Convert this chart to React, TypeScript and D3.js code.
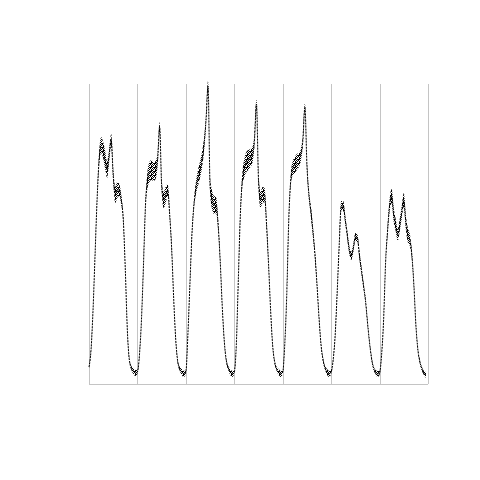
import * as d3 from "d3";

// hourly load, one array per day (hours 0..23)
const day1 = [17, 34, 74, 129, 184, 224, 239, 234, 224, 214, 229, 244, 209, 189, 194, 194, 184, 164, 114, 54, 24, 16, 13, 11];
const day2 = [12, 29, 64, 119, 179, 204, 212, 214, 212, 214, 224, 257, 199, 184, 189, 194, 169, 134, 84, 44, 22, 15, 12, 10];
const day3 = [12, 49, 99, 149, 179, 196, 206, 214, 224, 239, 264, 298, 199, 184, 179, 179, 159, 124, 79, 44, 24, 16, 12, 10];
const day4 = [12, 39, 104, 169, 204, 216, 222, 224, 226, 229, 244, 280, 204, 184, 189, 189, 159, 119, 74, 39, 22, 15, 12, 10];
const day5 = [12, 39, 89, 164, 204, 216, 219, 222, 224, 229, 244, 277, 219, 189, 172, 152, 129, 99, 66, 39, 24, 16, 12, 10];
const day6 = [12, 24, 49, 92, 139, 178, 178, 164, 149, 134, 128, 136, 147, 146, 129, 114, 99, 84, 62, 42, 26, 16, 12, 10];
const day7 = [11, 29, 64, 122, 154, 179, 188, 169, 159, 149, 159, 172, 184, 162, 149, 144, 129, 99, 59, 34, 22, 15, 11, 9];

// half-width of the noisy band around each hourly value
const spread1 = [2, 2, 2, 2, 3, 6, 8, 8, 9, 8, 6, 6, 6, 8, 8, 6, 5, 3, 2, 2, 2, 2, 3, 3];
const spread2 = [2, 2, 2, 3, 4, 8, 10, 10, 9, 9, 6, 5, 6, 8, 8, 6, 4, 3, 2, 2, 2, 2, 3, 3];
const spread3 = [2, 2, 3, 3, 4, 6, 8, 8, 8, 6, 5, 5, 8, 9, 9, 8, 5, 3, 2, 2, 2, 2, 3, 3];
const spread4 = [2, 2, 3, 4, 6, 9, 10, 10, 9, 8, 6, 5, 7, 8, 8, 7, 5, 3, 2, 2, 2, 2, 3, 3];
const spread5 = [2, 2, 3, 4, 5, 7, 8, 8, 7, 6, 5, 4, 4, 4, 5, 5, 4, 3, 2, 2, 2, 2, 3, 3];
const spread6 = [2, 2, 2, 3, 3, 5, 5, 4, 4, 4, 4, 4, 4, 4, 4, 4, 3, 3, 2, 2, 2, 2, 2, 3];
const spread7 = [2, 2, 2, 3, 4, 6, 7, 7, 6, 6, 6, 6, 7, 7, 7, 6, 4, 3, 2, 2, 2, 2, 2, 3];

const days = [day1, day2, day3, day4, day5, day6, day7];
const spreads = [spread1, spread2, spread3, spread4, spread5, spread6, spread7];

const W = 480;
const H = 480;

type Pt = { h: number; v: number; s: number };

export default function App() {
  const values = days.flat();
  const noise = spreads.flat();
  const pts: Pt[] = values.map((v, i) => ({ h: i, v, s: noise[i] }));

  const x = d3.scaleLinear().domain([0, 168]).range([89, 428]);
  const y = d3.scaleLinear().domain([0, 300]).range([384, 84]);

  const band = d3
    .area<Pt>()
    .x((d) => x(d.h))
    .y0((d) => y(d.v - d.s))
    .y1((d) => y(d.v + d.s))
    .curve(d3.curveMonotoneX);

  const line = d3
    .line<Pt>()
    .x((d) => x(d.h))
    .y((d) => y(d.v))
    .curve(d3.curveMonotoneX);

  const dayTicks = d3.range(0, 169, 24);

  return (
    <svg
      width={W}
      height={H}
      shapeRendering="crispEdges"
      style={{ position: "absolute", left: 0, top: 0, background: "#fff" }}
    >
      <defs>
        {/* speckle texture for the noisy daytime band */}
        <pattern id="speckle" width={4} height={4} patternUnits="userSpaceOnUse">
          <rect x={0} y={0} width={1} height={1} fill="#000" />
          <rect x={2} y={0} width={1} height={1} fill="#000" />
          <rect x={1} y={1} width={1} height={1} fill="#000" />
          <rect x={3} y={1} width={1} height={1} fill="#000" />
          <rect x={0} y={2} width={1} height={1} fill="#000" />
          <rect x={3} y={2} width={1} height={1} fill="#000" />
          <rect x={1} y={3} width={1} height={1} fill="#000" />
          <rect x={2} y={3} width={1} height={1} fill="#000" />
          <rect x={3} y={3} width={1} height={1} fill="#000" />
        </pattern>
      </defs>

      {/* day separators */}
      {dayTicks.map((t) => (
        <line
          key={t}
          x1={Math.round(x(t)) + 0.5}
          x2={Math.round(x(t)) + 0.5}
          y1={y(300)}
          y2={y(0)}
          stroke="#c4c4c4"
          strokeWidth={1}
        />
      ))}
      <line x1={x(0)} x2={x(168)} y1={y(0) + 0.5} y2={y(0) + 0.5} stroke="#c4c4c4" strokeWidth={1} />

      <path d={band(pts) ?? ""} fill="url(#speckle)" shapeRendering="auto" />
      <path
        d={line(pts) ?? ""}
        fill="none"
        stroke="#000"
        strokeWidth={1}
        strokeDasharray="2 1"
        shapeRendering="auto"
      />
    </svg>
  );
}
